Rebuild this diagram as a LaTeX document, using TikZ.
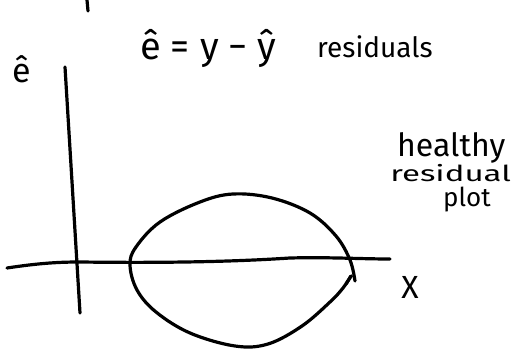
\documentclass[tikz,border=0pt]{standalone}
\usepackage{fontspec}
\setmainfont{Fira Sans}
\begin{document}
\begin{tikzpicture}[x=1pt,y=-1pt,
  stroke/.style={line width=3.2pt, line cap=round, line join=round, black},
  hand/.style={inner sep=0pt, font=#1},
  hand/.default={\fontsize{28}{30}\selectfont}]
\useasboundingbox (0,0) rectangle (520,350);
% small stroke at top
\coordinate (t1) at (87,0);
\coordinate (t2) at (88,11);
\draw[stroke] (t1) -- (t2);
% vertical axis
\coordinate (ytop) at (65,67);
\coordinate (ybot) at (80,313);
\draw[stroke] (ytop) -- (ybot);
% horizontal axis
\coordinate (xl) at (7,268);
\coordinate (xr) at (390,259);
\draw[stroke] (xl) .. controls (40,263) and (60,262) .. (80,262)
  .. controls (160,263) and (230,262) .. (290,258)
  .. controls (330,257) and (360,259) .. (xr);
% loop
\draw[stroke] plot[smooth, tension=0.6] coordinates {
  (355,281) (350,260) (336,236) (310,213) (272,198) (233,194) (200,202)
  (160,222) (136,247) (130,265) (137,290) (156,312) (190,333) (235,346)
  (268,344) (302,326) (330,302) (343,288) (351,276)};
\draw[stroke] (351,276) -- (346,284);
% texts
\node[hand={\fontsize{34}{36}\selectfont}, anchor=base] (elab) at (22,83) {ê};
\node[hand={\fontsize{38}{40}\selectfont}, anchor=base west] (formula) at (140,60) {ê = y − ŷ};
\node[hand={\fontsize{28}{30}\selectfont}, anchor=base west] (res) at (317,58) {residuals};
\node[hand={\fontsize{32}{34}\selectfont}, anchor=base west] (healthy) at (397,157) {healthy};
\node[hand={\fontsize{22}{24}\selectfont}, xscale=1.5, anchor=base west] (resid) at (390,182) {residual};
\node[hand={\fontsize{26}{28}\selectfont}, anchor=base west] (plot) at (443,207) {plot};
\node[hand={\fontsize{32}{34}\selectfont}, anchor=center] (xlab) at (410,287) {X};
\end{tikzpicture}
\end{document}
